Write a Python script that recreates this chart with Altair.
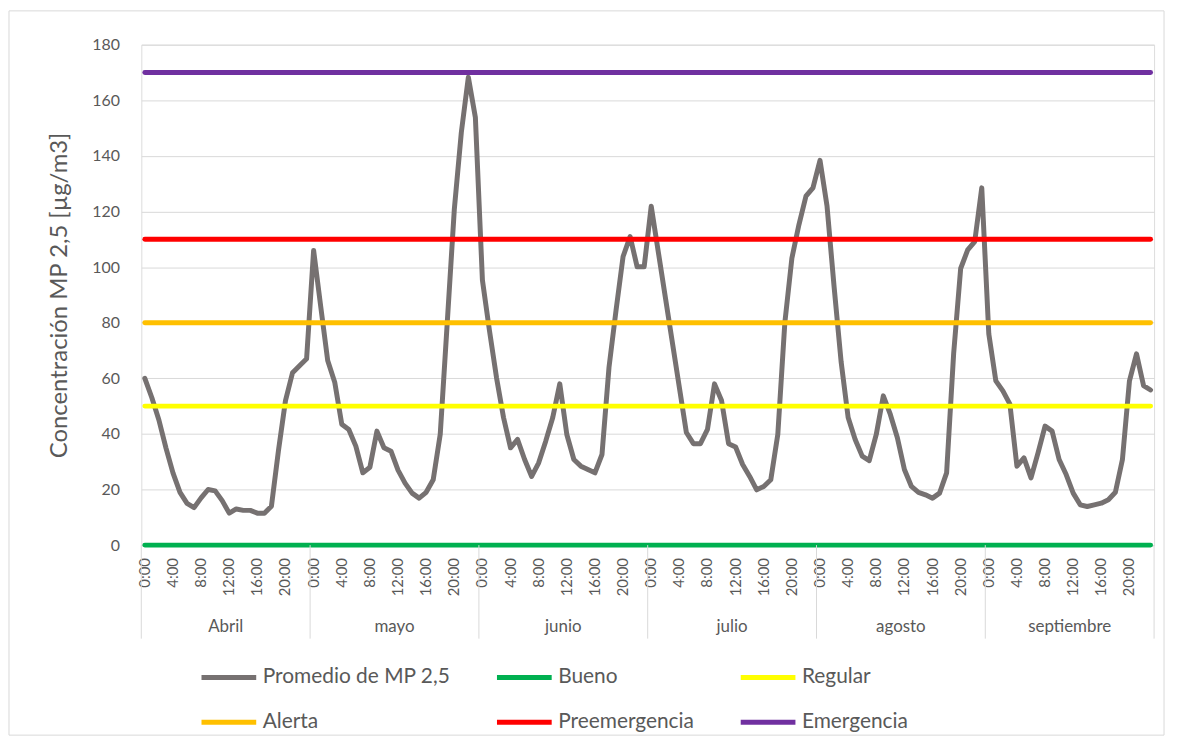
import altair as alt
import pandas as pd

months = ["Abril", "mayo", "junio", "julio", "agosto", "septiembre"]
series_name = "Promedio de MP 2,5"
hour_labels = ["0:00", "4:00", "8:00", "12:00", "16:00", "20:00"]
hour_step = 4

abril = [60, 53, 45, 35, 26, 19, 15, 13.5, 17, 20, 19.5, 16, 11.5, 13, 12.5, 12.5, 11.5, 11.5, 14, 34, 52, 62, 64.5, 67]
mayo = [106, 86, 66.4, 58.6, 43.5, 41.6, 35.6, 26, 28, 41, 35, 33.8, 27, 22.3, 18.7, 16.9, 19, 23.5, 39.8, 80, 120.6, 148.4, 168.3, 153.8]
junio = [95.3, 77.2, 60.3, 45.9, 35, 38, 30.8, 24.7, 29.6, 37.4, 45.9, 58, 39.8, 30.8, 28.4, 27.2, 26, 32.6, 64, 84.5, 103.8, 111, 100.1, 100.1]
julio = [121.9, 105.6, 89.3, 73, 56.7, 40.5, 36.5, 36.5, 41.6, 58, 52, 36.5, 35.3, 29, 24.7, 19.9, 21.1, 23.5, 39.8, 80, 103.2, 115.2, 125.5, 128.5]
agosto = [138.4, 121.9, 93, 66, 45.9, 38, 32, 30.4, 39.8, 53.7, 47, 38.6, 27.2, 21.1, 19, 18.1, 16.9, 18.7, 26, 68.8, 99.5, 106.2, 109.2, 128.5]
septiembre = [76, 59.1, 55.5, 50.7, 28.4, 31.4, 24.2, 33.2, 42.8, 41, 30.8, 25.4, 18.7, 14.5, 13.9, 14.5, 15.1, 16.3, 19, 30.8, 59.1, 68.8, 57.4, 55.8]

threshold_names = ["Bueno", "Regular", "Alerta", "Preemergencia", "Emergencia"]
threshold_values = [0, 50, 80, 110, 170]
colors = ["#767171", "#00B050", "#FFFF00", "#FFC000", "#FF0000", "#7030A0"]
y_ticks = [0, 20, 40, 60, 80, 100, 120, 140, 160, 180]

rows = []
idx = 0
for m, vals in zip(months, [abril, mayo, junio, julio, agosto, septiembre]):
    for h, v in enumerate(vals):
        rows.append({"idx": idx, "mes": m, "hora": h, "value": v, "serie": series_name})
        idx += 1
df = pd.DataFrame(rows)
n = len(df)

thr_rows = []
for name, v in zip(threshold_names, threshold_values):
    thr_rows.append({"idx": 0, "value": v, "serie": name})
    thr_rows.append({"idx": n - 1, "value": v, "serie": name})
thr_df = pd.DataFrame(thr_rows)

hl_rows = []
for k in range(len(months)):
    for j, lab in enumerate(hour_labels):
        hl_rows.append({"pos": k * 24 + j * hour_step, "lab": lab})
hl_df = pd.DataFrame(hl_rows)

sep_df = pd.DataFrame({"pos": [k * 24 - 0.5 for k in range(len(months) + 1)]})
mlab_df = pd.DataFrame({"pos": [k * 24 + 11.5 for k in range(len(months))], "mes": months})

W, H = 1018, 503
FONT = "Lato"
TXT = "#595959"
GRID = "#D9D9D9"

x_scale = alt.Scale(domain=[-0.5, n - 0.5], nice=False, zero=False)
y_scale = alt.Scale(domain=[0, 180], nice=False)
color_scale = alt.Scale(domain=[series_name] + threshold_names, range=colors)

x_axis = alt.Axis(labels=False, ticks=False, grid=False, domain=True, domainColor=GRID, title=None)
y_axis = alt.Axis(values=y_ticks, title="Concentración MP 2,5 [µg/m3]", titleFontSize=24,
                  titleFontWeight="normal", titleColor=TXT, titleFont=FONT, titlePadding=20,
                  labelFontSize=16, labelColor=TXT, labelFont=FONT, labelPadding=22,
                  ticks=False, domain=False, grid=True, gridColor=GRID, gridWidth=1)

legend = alt.Legend(title=None, orient="none", legendX=58, legendY=606, columns=3,
                    direction="horizontal",
                    symbolType="stroke", symbolSize=3025, symbolStrokeWidth=5,
                    labelFontSize=21, labelFont=FONT, labelColor=TXT, labelOffset=4,
                    columnPadding=36, rowPadding=5, gridAlign="each", labelLimit=400)

line = alt.Chart(df).mark_line(strokeWidth=5, strokeCap="round", strokeJoin="round").encode(
    x=alt.X("idx:Q", scale=x_scale, axis=x_axis),
    y=alt.Y("value:Q", scale=y_scale, axis=y_axis),
    color=alt.Color("serie:N", scale=color_scale, legend=legend),
)

thr = alt.Chart(thr_df).mark_line(strokeWidth=5, strokeCap="round").encode(
    x=alt.X("idx:Q", scale=x_scale),
    y=alt.Y("value:Q", scale=y_scale),
    color=alt.Color("serie:N", scale=color_scale, legend=legend),
    detail="serie:N",
)

hlabels = alt.Chart(hl_df).mark_text(fontSize=15, color=TXT, font=FONT, angle=270,
                                     align="right", baseline="middle").encode(
    x=alt.X("pos:Q", scale=x_scale),
    y=alt.value(H + 13),
    text="lab:N",
)

seps = alt.Chart(sep_df).mark_rule(color=GRID, strokeWidth=1).encode(
    x=alt.X("pos:Q", scale=x_scale),
    y=alt.value(H),
    y2=alt.value(H + 94),
)

mlabels = alt.Chart(mlab_df).mark_text(fontSize=17, color=TXT, font=FONT).encode(
    x=alt.X("pos:Q", scale=x_scale),
    y=alt.value(585),
    text="mes:N",
)

border = alt.Chart(pd.DataFrame({"a": [0]})).mark_rect(fill=None, stroke=GRID, strokeWidth=1).encode(
    x=alt.value(-133), x2=alt.value(W + 10), y=alt.value(-34), y2=alt.value(H + 191),
)

chart = alt.layer(border, line, thr, hlabels, seps, mlabels).properties(
    width=W, height=H,
    padding={"left": 134, "top": 35, "right": 15, "bottom": 195},
    autosize=alt.AutoSizeParams(type="none"),
).configure_view(stroke=None).configure(background="white")

chart.save("out.html", embed_options={"renderer": "svg", "actions": False})
